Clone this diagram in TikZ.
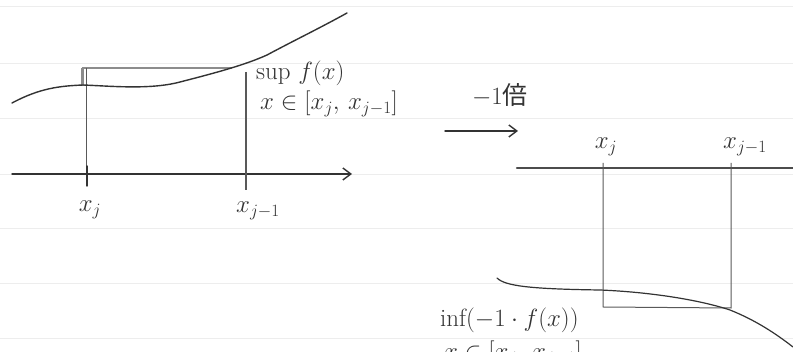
\documentclass[tikz,border=0pt]{standalone}
\usepackage{fontspec}
\newfontfamily\cjk{Noto Sans CJK JP}
\usetikzlibrary{arrows.meta}
\tikzset{
  ruled/.style={draw=black!7, line width=0.8pt},
  ink/.style={draw=black!80, line width=1.4pt, line cap=round},
  thinink/.style={draw=black!65, line width=1pt},
  axisarrow/.style={ink, -{Straight Barb[length=8pt,width=12pt]}},
  lbl/.style={font=\fontsize{25}{28}\selectfont, text=black!80, inner sep=0pt},
}
\begin{document}
\begin{tikzpicture}[x=1pt,y=-1pt]
\useasboundingbox (0,0) rectangle (793,352);
\clip (0,0) rectangle (793,352);
% notebook rules
\foreach \yy in {6,63,118,174,228,283,338}
  \draw[ruled] (0,\yy) -- (793,\yy);

% ---------- left diagram ----------
\coordinate (axL) at (12,174);
\coordinate (axR) at (352,174);
\draw[axisarrow] (axL) -- (axR);
% rectangle
\coordinate (tl) at (82,68);
\coordinate (tr) at (232,68);
\coordinate (lt) at (86,68);
\coordinate (bl) at (86,174);
\coordinate (rt) at (246,72);
\coordinate (rb) at (246,190);
\draw[thinink, draw=black!45, line width=2pt] (tl) -- (tr);
\draw[thinink, draw=black!45, line width=3pt] (tl) -- (82,86);
\draw[thinink] (lt) -- (bl);
\draw[thinink, line width=1.6pt] (rt) -- (rb);
\draw[ink] (87,166) -- (87,186);
% curve
\draw[ink] (12,103) .. controls (40,88) and (60,86) .. (83,85)
  .. controls (110,86) and (150,90) .. (180,82)
  .. controls (215,73) and (245,65) .. (267,55)
  .. controls (295,40) and (320,28) .. (347,13);
% labels
\node[lbl] (xj) at (90,210) {$x_j$};
\node[lbl] (xj1) at (258,211) {$x_{j-1}$};
\node[lbl, anchor=west] (sup) at (256,73) {sup $f(x)$};
\node[lbl, anchor=west] (dom) at (260,104) {$x\in[x_j,\,x_{j-1}]$};

% ---------- middle arrow ----------
\coordinate (ma) at (445,131);
\coordinate (mb) at (518,131);
\draw[axisarrow] (ma) -- (mb);
\node[lbl] (mul) at (500,95) {$-1$\cjk 倍};

% ---------- right diagram ----------
\coordinate (rL) at (517,168);
\coordinate (rR) at (793,168);
\draw[ink, draw=black!70, line width=2.4pt] (rL) -- (rR);
\coordinate (p1) at (603,163);
\coordinate (p2) at (603,307);
\coordinate (p3) at (731,308);
\coordinate (p4) at (731,163);
\draw[thinink] (p1) -- (p2) -- (p3) -- (p4);
\node[lbl] (rxj) at (606,147) {$x_j$};
\node[lbl] (rxj1) at (745,147) {$x_{j-1}$};
% curve
\draw[ink, line width=1.2pt] (497,278) .. controls (505,286) and (530,289) .. (600,290)
  .. controls (650,292) and (700,300) .. (730,310)
  .. controls (755,320) and (775,333) .. (793,347);
\node[lbl, anchor=west] (inf) at (440,320) {inf$(-1\cdot f(x))$};
\node[lbl, anchor=west] (dom2) at (444,354) {$x\in[x_j,\,x_{j-1}]$};
\end{tikzpicture}
\end{document}
